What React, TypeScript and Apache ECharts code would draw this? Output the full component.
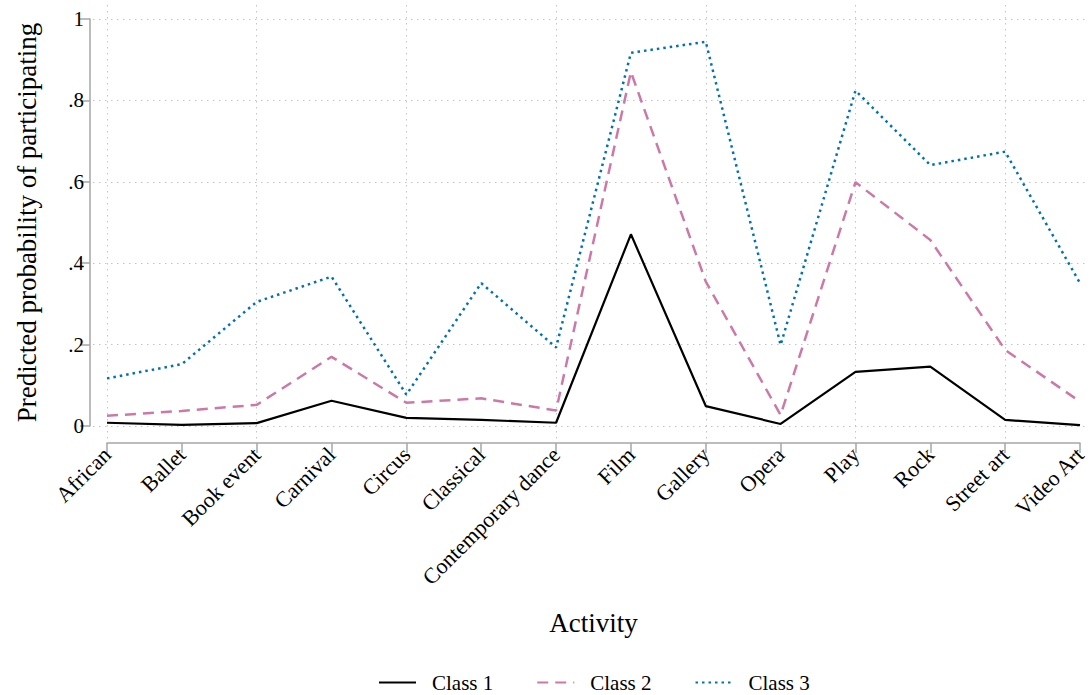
import React, { useEffect, useRef } from "react";
import * as echarts from "echarts";

const categories = [
  "African", "Ballet", "Book event", "Carnival", "Circus", "Classical",
  "Contemporary dance", "Film", "Gallery", "Opera", "Play", "Rock",
  "Street art", "Video Art",
];
const class1 = [0.008, 0.003, 0.007, 0.062, 0.020, 0.015, 0.008, 0.471, 0.049, 0.005, 0.133, 0.146, 0.015, 0.002];
const class2 = [0.025, 0.037, 0.052, 0.170, 0.057, 0.068, 0.038, 0.870, 0.355, 0.027, 0.599, 0.457, 0.187, 0.060];
const class3 = [0.117, 0.152, 0.305, 0.367, 0.077, 0.351, 0.193, 0.917, 0.944, 0.199, 0.824, 0.641, 0.674, 0.351];

const FONT = "Liberation Serif";
const AXIS_COLOR = "#a6a6a6";
const GRID_COLOR = "#c4c4c4";
const GRID_DASH = [1.5, 4.5];

function fmt(v: number): string {
  if (v === 0) return "0";
  if (v === 1) return "1";
  return v.toFixed(1).replace(/^0/, "");
}

export default function App() {
  const ref = useRef<HTMLDivElement>(null);
  useEffect(() => {
    if (!ref.current) return;
    const chart = echarts.init(ref.current, undefined, { renderer: "svg" });
    const hiddenVal = { type: "value", min: 0, max: 1, show: false };
    chart.setOption({
      animation: false,
      backgroundColor: "#ffffff",
      textStyle: { fontFamily: FONT },
      legend: {
        top: 672,
        left: 378,
        padding: 0,
        itemWidth: 37,
        itemHeight: 14,
        itemGap: 43,
        itemStyle: { color: "rgba(0,0,0,0)", borderColor: "rgba(0,0,0,0)", borderWidth: 0 },
        textStyle: { fontFamily: FONT, fontSize: 21, color: "#000", padding: [0, 0, 0, 11] },
        data: ["Class 1", "Class 2", "Class 3"],
      },
      grid: [
        { left: 107, right: 10, top: 19, bottom: 269 },
        { left: 93, right: 3, top: 19, bottom: 269 },
        { left: 107, right: 10, top: 5, bottom: 255 },
        { left: 107, right: 10, top: 19, bottom: 252 },
        { left: 90, right: 3, top: 19, bottom: 269 },
      ],
      xAxis: [
        { gridIndex: 0, type: "category", data: categories, boundaryGap: false, show: false },
        { gridIndex: 1, ...hiddenVal },
        {
          gridIndex: 2,
          type: "category",
          data: categories,
          boundaryGap: false,
          axisLine: { show: false },
          axisTick: { show: false },
          axisLabel: { show: false },
          splitLine: { show: true, lineStyle: { color: GRID_COLOR, type: GRID_DASH, width: 1 } },
        },
        {
          gridIndex: 3,
          type: "category",
          data: categories,
          boundaryGap: false,
          axisLine: { onZero: false, lineStyle: { color: AXIS_COLOR, width: 1.5 } },
          axisTick: { length: 10, lineStyle: { color: AXIS_COLOR, width: 1.5 } },
          axisLabel: {
            rotate: 45,
            interval: 0,
            fontFamily: FONT,
            fontSize: 22,
            color: "#000",
            margin: 8,
          },
          splitLine: { show: false },
          name: "Activity",
          nameLocation: "middle",
          nameGap: 166,
          nameMoveOverlap: false,
          nameTextStyle: { fontFamily: FONT, fontSize: 27, color: "#000" },
        },
        { gridIndex: 4, ...hiddenVal },
      ],
      yAxis: [
        { gridIndex: 0, ...hiddenVal },
        {
          gridIndex: 1,
          type: "value",
          min: 0,
          max: 1,
          interval: 0.2,
          axisLine: { show: false },
          axisTick: { show: false },
          axisLabel: { show: false },
          splitLine: { show: true, lineStyle: { color: GRID_COLOR, type: GRID_DASH, width: 1 } },
        },
        { gridIndex: 2, ...hiddenVal },
        { gridIndex: 3, ...hiddenVal },
        {
          gridIndex: 4,
          type: "value",
          min: 0,
          max: 1,
          interval: 0.2,
          axisLine: { show: true, onZero: false, lineStyle: { color: AXIS_COLOR, width: 1.5 } },
          axisTick: { show: true, length: 10, lineStyle: { color: AXIS_COLOR, width: 1.5 } },
          axisLabel: {
            formatter: (v: number) => fmt(v),
            fontFamily: FONT,
            fontSize: 21,
            color: "#000",
            margin: 6,
          },
          splitLine: { show: false },
          name: "Predicted probability of participating",
          nameLocation: "middle",
          nameGap: 50,
          nameMoveOverlap: false,
          nameTextStyle: { fontFamily: FONT, fontSize: 27, color: "#000" },
        },
      ],
      series: [
        {
          name: "Class 3",
          type: "line",
          xAxisIndex: 0,
          yAxisIndex: 0,
          data: class3,
          symbol: "none",
          showSymbol: false,
          itemStyle: { color: "#0072b2" },
          lineStyle: { color: "#0072b2", width: 2.5, type: [2.5, 4] },
        },
        {
          name: "Class 2",
          type: "line",
          xAxisIndex: 0,
          yAxisIndex: 0,
          data: class2,
          symbol: "none",
          showSymbol: false,
          itemStyle: { color: "#cc79a7" },
          lineStyle: { color: "#cc79a7", width: 2.5, type: [11, 7] },
        },
        {
          name: "Class 1",
          type: "line",
          xAxisIndex: 0,
          yAxisIndex: 0,
          data: class1,
          symbol: "none",
          showSymbol: false,
          itemStyle: { color: "#000000" },
          lineStyle: { color: "#000000", width: 2.2 },
        },
      ],
    });
    return () => chart.dispose();
  }, []);
  return (
    <div
      ref={ref}
      style={{ position: "absolute", left: 0, top: 0, width: 1090, height: 695 }}
    />
  );
}
